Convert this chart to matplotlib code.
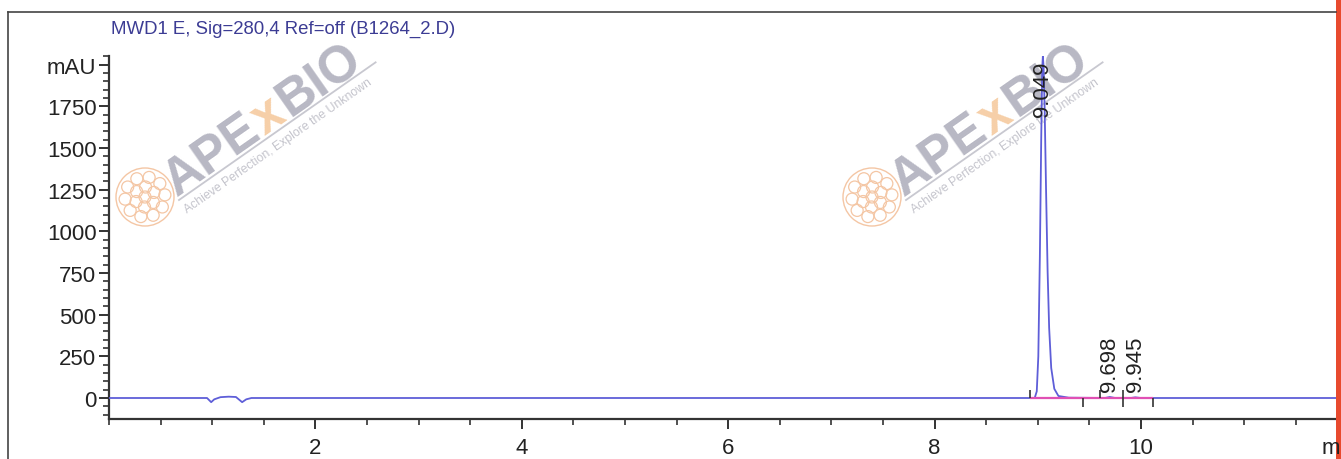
import numpy as np
import matplotlib
matplotlib.use("Agg")
import matplotlib.pyplot as plt
from matplotlib.ticker import MultipleLocator, FixedLocator
from matplotlib.patches import Circle, Rectangle
from matplotlib.textpath import TextPath
from matplotlib.font_manager import FontProperties

plt.rcParams['font.family'] = ['Liberation Sans', 'DejaVu Sans']

# chromatogram trace (time in min, signal in mAU)
time_min = [0.00, 0.95, 0.99, 1.02, 1.08, 1.16, 1.23, 1.29, 1.33, 1.38,
            8.90, 8.97, 8.99, 9.005, 9.02, 9.033, 9.043, 9.049, 9.056, 9.066,
            9.08, 9.095, 9.11, 9.13, 9.16, 9.20, 9.30, 9.65, 9.698, 9.75,
            9.90, 9.945, 10.00, 12.00]
signal_mau = [0, 0, -25, -8, 5, 8, 6, -25, -8, 0,
              0, 0, 40, 250, 850, 1550, 1980, 2050, 1990, 1750,
              1250, 760, 420, 180, 55, 12, 2, 0, 6, 0,
              0, 4, 0, 0]

# integration events
peak_rt = [9.049, 9.698, 9.945]
peak_label_y = [1690, 40, 40]
int_start = [8.92, 9.60, 9.83]
int_end = [9.44, 9.83, 10.12]

y_ticks = [0, 250, 500, 750, 1000, 1250, 1500, 1750, 2000]
y_labels = ['0', '250', '500', '750', '1000', '1250', '1500', '1750', 'mAU']
x_ticks = [2, 4, 6, 8, 10]

title = 'MWD1 E, Sig=280,4 Ref=off (B1264_2.D)'

W, H = 1341, 460
fig = plt.figure(figsize=(W / 100, H / 100), dpi=100)

# background layer in image pixel coords (watermarks)
bg = fig.add_axes([0, 0, 1, 1], zorder=0)
bg.set_xlim(0, W)
bg.set_ylim(H, 0)
bg.axis('off')

ang = 35.0
ca, sa = np.cos(np.radians(ang)), np.sin(np.radians(ang))
big = FontProperties(family=['Liberation Sans', 'DejaVu Sans'], weight='bold', size=37)


def adv(s, fp):
    return TextPath((0, 0), s, prop=fp).get_extents().width * 100 / 72 + 4


def watermark(x0, y0):
    x, y = x0, y0
    for part, col in [('APE', '#b8b8c4'), ('x', '#f6cfa8'), ('BIO', '#b8b8c4')]:
        bg.text(x, y, part, fontproperties=big, color=col, rotation=ang,
                rotation_mode='anchor', ha='left', va='baseline')
        w = adv(part, big)
        x += w * ca
        y -= w * sa
    bg.plot([x0 + 2, x0 + 2 + 240 * ca], [y0 + 4, y0 + 4 - 240 * sa],
            color='#c8c8d0', lw=1.3)
    bg.text(x0 + 10, y0 + 17, 'Achieve Perfection, Explore the Unknown',
            color='#c4c4cc', fontsize=8.8, rotation=ang, rotation_mode='anchor',
            ha='left', va='baseline')
    cx, cy = x0 - 32, y0 + 1
    bg.add_patch(Circle((cx, cy), 29, fill=False, ec='#f4c6a4', lw=1.0))
    for r, n in [(0, 1), (10, 6), (20, 10)]:
        for k in range(n):
            a = 2 * np.pi * k / n + r
            bg.add_patch(Circle((cx + r * np.cos(a), cy + r * np.sin(a)), 6,
                                fill=False, ec='#f4c6a4', lw=0.9))


watermark(177, 197)
watermark(904, 197)

# main chromatogram axes
ax = fig.add_axes([109 / W, (H - 420) / H, (W - 109) / W, 363 / H], zorder=2)
ax.patch.set_alpha(0)
ax.set_xlim(0, (W - 109) / 103.2)
ax.set_ylim(-126, 2052)

ax.plot(time_min, signal_mau, color='#5e5ed8', lw=1.3, zorder=3)
ax.hlines(0, int_start[0], int_end[-1], color='#e050b4', lw=1.6, zorder=4)
ax.vlines(int_start, 0, 50, color='#333333', lw=1.2, zorder=5)
ax.vlines(int_end, -55, 0, color='#333333', lw=1.2, zorder=5)
for rt, ly in zip(peak_rt, peak_label_y):
    ax.text(rt, ly, f'{rt:.3f}', rotation=90, ha='center', va='bottom',
            fontsize=16, color='#222222', zorder=6)

for s in ['top', 'right']:
    ax.spines[s].set_visible(False)
for s in ['left', 'bottom']:
    ax.spines[s].set_linewidth(1.6)
    ax.spines[s].set_color('#333333')

ax.yaxis.set_major_locator(FixedLocator(y_ticks))
ax.set_yticklabels(y_labels)
ax.yaxis.set_minor_locator(MultipleLocator(50))
ax.xaxis.set_major_locator(FixedLocator(x_ticks))
ax.xaxis.set_minor_locator(MultipleLocator(0.5))
ax.tick_params(which='major', length=7, width=1.4, color='#333333',
               labelsize=16, labelcolor='#222222')
ax.tick_params(axis='y', which='major', pad=2)
ax.tick_params(axis='x', which='major', pad=6)
ax.tick_params(which='minor', length=4, width=1.2, color='#333333')

# overlay: frame, title, unit, red edge
top = fig.add_axes([0, 0, 1, 1], zorder=5)
top.set_xlim(0, W)
top.set_ylim(H, 0)
top.axis('off')
top.plot([8, 1336], [13, 13], color='#444444', lw=1.2)
top.plot([8, 8], [13, H], color='#444444', lw=1.2)
top.text(111, 29, title, color='#3c3c94', fontsize=13.4, ha='left', va='center')
top.text(1322, 449, 'min', color='#222222', fontsize=16, ha='left', va='center')
top.add_patch(Rectangle((1336, 0), 6, H, color='#e84a2e', lw=0))

fig.savefig('out.png', dpi=100)
